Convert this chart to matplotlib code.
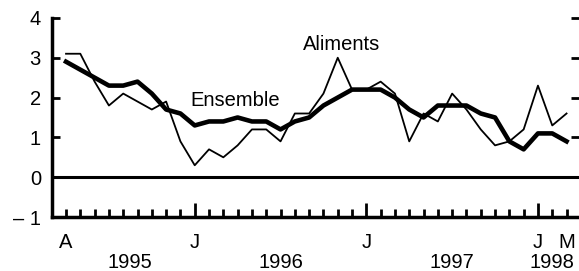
import matplotlib; matplotlib.use('Agg')
import matplotlib.pyplot as plt
import numpy as np

# monthly data, April 1995 -> March 1998
aliments = [3.1, 3.1, 2.4, 1.8, 2.1, 1.9, 1.7, 1.9, 0.9,
            0.3, 0.7, 0.5, 0.8, 1.2, 1.2, 0.9, 1.6, 1.6, 2.1, 3.0, 2.2,
            2.2, 2.4, 2.1, 0.9, 1.6, 1.4, 2.1, 1.7, 1.2, 0.8, 0.9, 1.2,
            2.3, 1.3, 1.6]
ensemble = [2.9, 2.7, 2.5, 2.3, 2.3, 2.4, 2.1, 1.7, 1.6,
            1.3, 1.4, 1.4, 1.5, 1.4, 1.4, 1.2, 1.4, 1.5, 1.8, 2.0, 2.2,
            2.2, 2.2, 2.0, 1.7, 1.5, 1.8, 1.8, 1.8, 1.6, 1.5, 0.9, 0.7,
            1.1, 1.1, 0.9]
month_labels = ['A', 'J', 'J', 'J', 'M']
month_pos = [0, 9, 21, 33, 35]
year_labels = ['1995', '1996', '1997', '1998']
year_pos = [4.5, 15, 27, 34]
yticks = [-1, 0, 1, 2, 3, 4]
ytick_labels = ['\u2013 1', '0', '1', '2', '3', '4']

plt.rcParams['font.family'] = 'Liberation Sans'
fs = 14.5

fig = plt.figure(figsize=(5.79, 2.71), dpi=100)
ax = fig.add_axes([52/579., 0.199, 1 - 52/579., 0.735])

x = np.arange(len(aliments))
ax.axhline(0, color='black', lw=2.2, zorder=1)
ax.plot(x, aliments, color='black', lw=1.3, zorder=3)
ax.plot(x, ensemble, color='black', lw=3.3, zorder=4)

ax.set_xlim(-0.98, 35.87)
ax.set_ylim(-1, 4)

for s in ['top', 'right']:
    ax.spines[s].set_visible(False)
ax.spines['left'].set_linewidth(2.5)
ax.spines['bottom'].set_linewidth(2.5)

ax.set_yticks(yticks)
ax.set_yticklabels(ytick_labels)
ax.tick_params(axis='y', direction='in', length=6, width=2, right=True,
               labelsize=fs, pad=8)

ax.set_xticks([9, 21, 33])
ax.set_xticks([i for i in x if i not in (9, 21, 33)], minor=True)
ax.tick_params(axis='x', which='major', direction='in', length=10, width=2,
               labelbottom=False)
ax.tick_params(axis='x', which='minor', direction='in', length=6, width=2)

tr = ax.get_xaxis_transform()
for lab, p in zip(month_labels, month_pos):
    ax.text(p, -0.126, lab, transform=tr, ha='center', va='center', fontsize=fs)
for lab, p in zip(year_labels, year_pos):
    ax.text(p, -0.226, lab, transform=tr, ha='center', va='center', fontsize=fs)

ax.text(8.72, 1.92, 'Ensemble', ha='left', va='center', fontsize=fs)
ax.text(16.57, 3.32, 'Aliments', ha='left', va='center', fontsize=fs)

fig.savefig('out.png', dpi=100)
